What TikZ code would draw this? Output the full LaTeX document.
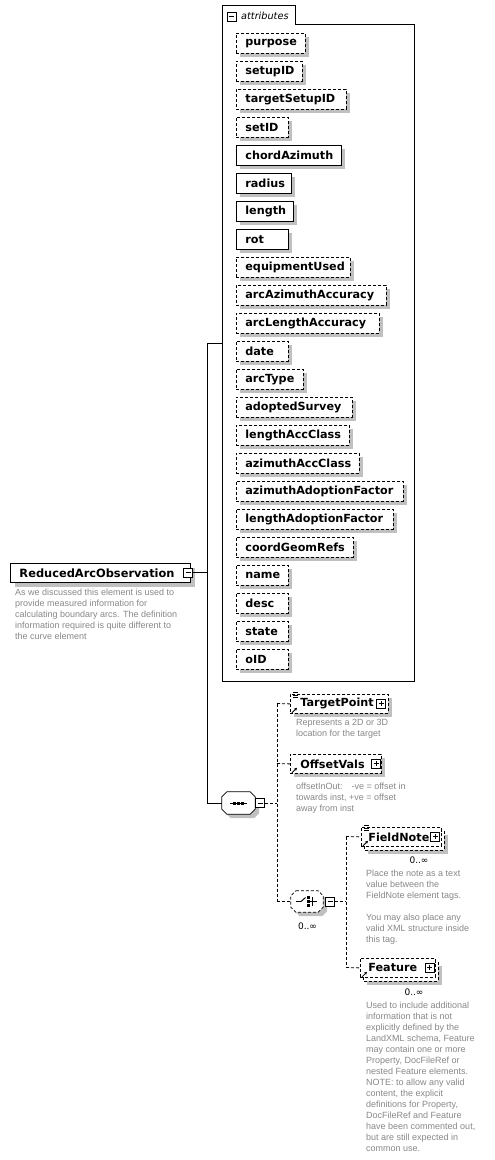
\documentclass[tikz,border=0pt]{standalone}
\usepackage{fontspec}
\setmainfont{DejaVu Sans}
\newfontfamily\descfont{Liberation Sans}
\usetikzlibrary{shadows,arrows.meta,calc}
\definecolor{descgray}{RGB}{136,136,136}
\definecolor{shadowgray}{RGB}{192,192,192}
\newcommand\padtext[3][9pt]{\makebox[#2][l]{\hspace{#1}#3}}
\tikzset{
  shadowed/.style={drop shadow={shadow xshift=4pt,shadow yshift=-4pt,fill=shadowgray,opacity=1}},
  basebox/.style={draw,line width=0.8pt,fill=white,inner sep=0pt,minimum height=20pt,anchor=north west,
    font=\fontsize{11.2}{13}\selectfont\bfseries},
  req/.style={basebox,shadowed},
  opt/.style={basebox,shadowed,dash pattern=on 3pt off 2pt},
  optflat/.style={basebox,dash pattern=on 3pt off 2pt},
  backbox/.style={draw,line width=0.8pt,fill=white,dash pattern=on 3pt off 2pt,shadowed},
  desc/.style={anchor=north west,inner sep=0pt,align=left,text=descgray,font=\descfont\fontsize{9}{11}\selectfont},
  minus/.style={draw,line width=0.7pt,fill=white,minimum size=9pt,inner sep=0pt,
    path picture={\draw[line width=0.7pt] ($(path picture bounding box.west)+(2,0)$) -- ($(path picture bounding box.east)+(-2,0)$);}},
  plus/.style={draw,line width=0.7pt,fill=white,minimum size=9pt,inner sep=0pt,
    path picture={\draw[line width=0.7pt] ($(path picture bounding box.west)+(2,0)$) -- ($(path picture bounding box.east)+(-2,0)$)
      ($(path picture bounding box.north)+(0,2)$) -- ($(path picture bounding box.south)+(0,-2)$);}},
  link/.style={line width=0.8pt},
  optlink/.style={line width=0.8pt,dash pattern=on 3pt off 2pt},
  occ/.style={inner sep=0pt,font=\fontsize{9}{10}\selectfont},
  anchorbox/.style={inner sep=0pt,minimum width=#1,minimum height=22pt},
  octa/.style={draw,line width=0.8pt,fill=white,shadowed},
  icon/.style={line width=0.7pt},
  arrowicon/.style={line width=0.8pt,-{Stealth[length=3pt,width=3pt]}},
}
\begin{document}
\begin{tikzpicture}[x=1pt,y=-1pt]
\useasboundingbox (0,0) rectangle (495,1160);
\fill[white] (0,0) rectangle (495,1160);

% attributes container
\draw[line width=0.8pt] (222,5) -- (295,5) -- (295,24) -- (414,24) -- (414,681) -- (222,681) -- cycle;
\node[minus] (attrpm) at (231.5,16.5) {};
\node[anchor=west,inner sep=0pt,font=\fontsize{9.7}{11}\selectfont\itshape] (attrlbl) at (241,16) {attributes};

\node[opt] (a1) at (236,33) {\padtext{69pt}{purpose}};
\node[opt] (a2) at (236,61) {\padtext{66pt}{setupID}};
\node[opt] (a3) at (236,89) {\padtext{110pt}{targetSetupID}};
\node[opt] (a4) at (236,117) {\padtext{52pt}{setID}};
\node[req] (a5) at (236,145) {\padtext{105pt}{chordAzimuth}};
\node[req] (a6) at (236,173) {\padtext{55pt}{radius}};
\node[req] (a7) at (236,201) {\padtext{57pt}{length}};
\node[req] (a8) at (236,229) {\padtext{52pt}{rot}};
\node[opt] (a9) at (236,257) {\padtext{114pt}{equipmentUsed}};
\node[opt] (a10) at (236,285) {\padtext{150pt}{arcAzimuthAccuracy}};
\node[opt] (a11) at (236,313) {\padtext{143pt}{arcLengthAccuracy}};
\node[opt] (a12) at (236,341) {\padtext{52pt}{date}};
\node[opt] (a13) at (236,369) {\padtext{67pt}{arcType}};
\node[opt] (a14) at (236,397) {\padtext{116pt}{adoptedSurvey}};
\node[opt] (a15) at (236,425) {\padtext{113pt}{lengthAccClass}};
\node[opt] (a16) at (236,453) {\padtext{123pt}{azimuthAccClass}};
\node[opt] (a17) at (236,481) {\padtext{167pt}{azimuthAdoptionFactor}};
\node[opt] (a18) at (236,509) {\padtext{157pt}{lengthAdoptionFactor}};
\node[opt] (a19) at (236,537) {\padtext{117pt}{coordGeomRefs}};
\node[opt] (a20) at (236,565) {\padtext{52pt}{name}};
\node[opt] (a21) at (236,593) {\padtext{52pt}{desc}};
\node[opt] (a22) at (236,621) {\padtext{52pt}{state}};
\node[opt] (a23) at (236,649) {\padtext{52pt}{oID}};

% root element
\node[req,minimum height=19pt,line width=1pt,font=\fontsize{11.4}{13}\selectfont\bfseries] (root) at (10,563) {\padtext{180pt}{ReducedArcObservation}};
\node[minus] (rootpm) at (188,572.5) {};
\node[desc] (rootdesc) at (15,588.5) {As we discussed this element is used to\\provide measured information for\\calculating boundary arcs. The definition\\information required is quite different to\\the curve element};

% sequence compositor
\node[anchorbox=33pt] (seq) at (238.5,803) {};
\draw[octa] ($(seq.north west)+(5,0)$) -- ($(seq.north east)+(-5,0)$) -- ($(seq.north east)+(0,5)$)
  -- ($(seq.south east)+(0,-5)$) -- ($(seq.south east)+(-5,0)$) -- ($(seq.south west)+(5,0)$)
  -- ($(seq.south west)+(0,-5)$) -- ($(seq.north west)+(0,5)$) -- cycle;
\draw[line width=1pt] ($(seq.center)+(-8.5,0)$) -- ($(seq.center)+(8.5,0)$);
\foreach \dx in {-4,0,4} \fill ($(seq.center)+(\dx-1.5,-1.5)$) rectangle ++(3,3);
\node[minus] (seqpm) at (260,803) {};

\coordinate (attrin) at (222,343);
\coordinate (trunktop) at (207,343);
\coordinate (trunk) at (207,572.5);
\coordinate (trunkbot) at (207,803);
\draw[link] (rootpm.east) -- (trunk);
\draw[link] (attrin) -- (trunktop) -- (trunkbot) -- (seq.west);

% sequence children
\node[opt,minimum height=19pt] (tp) at (290,694) {\padtext[10pt]{98pt}{TargetPoint}};
\node[plus] (tppm) at (381,703.5) {};
\node[opt,minimum height=19pt] (ov) at (290,754) {\padtext[10pt]{91pt}{OffsetVals}};
\node[plus] (ovpm) at (376,763.5) {};
\node[desc] (tpdesc) at (296,719.5) {Represents a 2D or 3D\\location for the target};
\node[desc] (ovdesc) at (296,782.5) {offsetInOut:\hspace{9pt}-ve = offset in\\towards inst, +ve = offset\\away from inst};

% choice compositor
\node[anchorbox=32pt,minimum height=21pt] (choice) at (307,901.5) {};
\draw[octa,dash pattern=on 3pt off 2pt] ($(choice.north west)+(5,0)$) -- ($(choice.north east)+(-5,0)$) -- ($(choice.north east)+(0,5)$)
  -- ($(choice.south east)+(0,-5)$) -- ($(choice.south east)+(-5,0)$) -- ($(choice.south west)+(5,0)$)
  -- ($(choice.south west)+(0,-5)$) -- ($(choice.north west)+(0,5)$) -- cycle;
\draw[line width=0.9pt] ($(choice.center)+(-11,0)$) -- ($(choice.center)+(-6,0)$) -- ($(choice.center)+(-1.5,-4)$);
\foreach \dy in {-4,0,4} \fill ($(choice.center)+(0,\dy-1.4)$) rectangle ++(3.2,2.8);
\draw[line width=0.9pt] ($(choice.center)+(5,-4.5)$) -- ($(choice.center)+(5,4.5)$) ($(choice.center)+(3,0)$) -- ($(choice.center)+(10,0)$);
\node[minus] (choicepm) at (330,901.5) {};
\node[occ] (choiceocc) at (307.5,926) {0..∞};

\coordinate (b1top) at (277,703.5);
\coordinate (b1ov) at (277,763.5);
\coordinate (b1seq) at (277,803);
\coordinate (b1bot) at (277,901.5);
\draw[optlink] (seqpm.east) -- (b1seq);
\draw[optlink] (b1top) -- (b1bot);
\draw[optlink] (b1top) -- (tp.west);
\draw[optlink] (b1ov) -- (ov.west);
\draw[optlink] (b1bot) -- (choice.west);

% choice children
\path[backbox] (364,831) rectangle (444,850);
\node[optflat,minimum height=19pt] (fn) at (361,827) {\padtext[7pt]{80pt}{FieldNote}};
\node[plus] (fnpm) at (435,836.5) {};
\node[occ] (fnocc) at (419,860) {0..∞};
\node[desc] (fndesc) at (366,870) {Place the note as a text\\value between the\\FieldNote element tags.\\[11pt]You may also place any\\valid XML structure inside\\this tag.};

\path[backbox] (363,962) rectangle (438,981);
\node[optflat,minimum height=19pt] (ft) at (360,958) {\padtext[8pt]{75pt}{Feature}};
\node[plus] (ftpm) at (429.5,967.5) {};
\node[occ] (ftocc) at (414,992) {0..∞};
\node[desc] (ftdesc) at (366,1002) {Used to include additional\\information that is not\\explicitly defined by the\\LandXML schema, Feature\\may contain one or more\\Property, DocFileRef or\\nested Feature elements.\\NOTE: to allow any valid\\content, the explicit\\definitions for Property,\\DocFileRef and Feature\\have been commented out,\\but are still expected in\\common use.};

\coordinate (b2top) at (346,836.5);
\coordinate (b2ch) at (346,901.5);
\coordinate (b2bot) at (346,967.5);
\draw[optlink] (choicepm.east) -- (b2ch);
\draw[optlink] (b2top) -- (b2bot);
\draw[optlink] (b2top) -- (fn.west);
\draw[optlink] (b2bot) -- (ft.west);

% icons
\draw[icon] ($(tp.north west)+(3,-1.5)$) -- ++(5,0) ($(tp.north west)+(3,1)$) -- ++(5,0) ($(tp.north west)+(3,3.5)$) -- ++(5,0);
\draw[icon] ($(fn.north west)+(3,-1.5)$) -- ++(5,0) ($(fn.north west)+(3,1)$) -- ++(5,0) ($(fn.north west)+(3,3.5)$) -- ++(5,0);
\draw[arrowicon] ($(tp.south west)+(2,-1)$) -- ++(5,-5);
\draw[arrowicon] ($(ov.south west)+(2,-1)$) -- ++(5,-5);
\draw[arrowicon] ($(fn.south west)+(2,-1)$) -- ++(5,-5);
\draw[arrowicon] ($(ft.south west)+(2,-1)$) -- ++(5,-5);
\end{tikzpicture}
\end{document}
